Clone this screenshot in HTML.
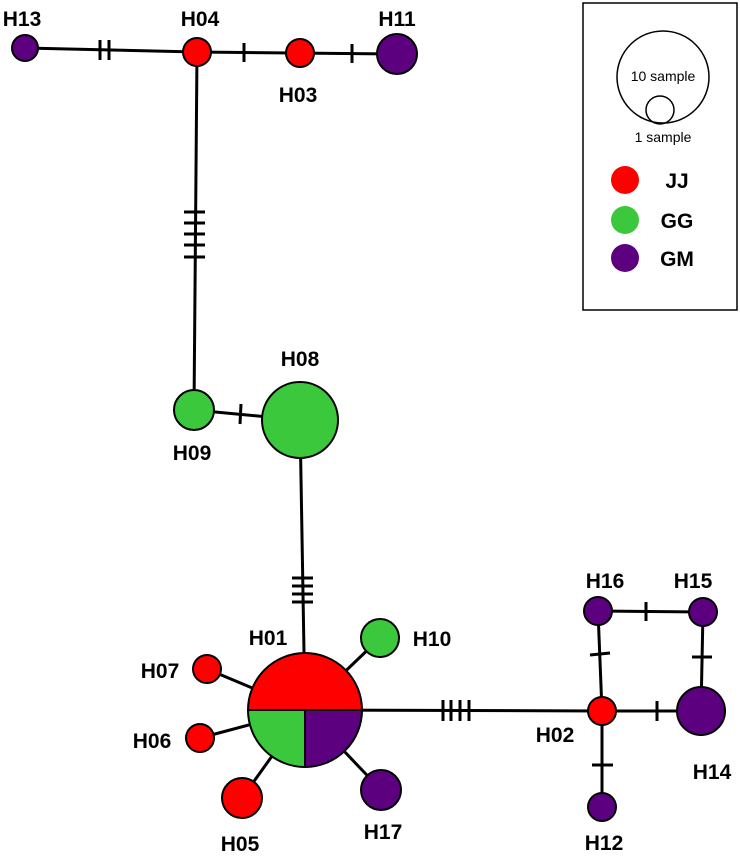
<!DOCTYPE html>
<html><head><style>html,body{margin:0;padding:0;background:#fff}</style></head><body>
<svg width="740" height="855" viewBox="0 0 740 855" xmlns="http://www.w3.org/2000/svg" font-family="Liberation Sans, Arial, sans-serif">
<g stroke="#000" stroke-width="3" fill="none">
<line x1="25" y1="48" x2="197" y2="52"/>
<line x1="197" y1="52" x2="397" y2="54"/>
<line x1="197" y1="52" x2="194" y2="410"/>
<line x1="194" y1="410" x2="300" y2="420"/>
<line x1="300" y1="420" x2="305" y2="710"/>
<line x1="305" y1="710" x2="602" y2="711"/>
<line x1="305" y1="710" x2="380" y2="638"/>
<line x1="305" y1="710" x2="207" y2="669"/>
<line x1="305" y1="710" x2="200" y2="738"/>
<line x1="305" y1="710" x2="242" y2="798"/>
<line x1="305" y1="710" x2="381" y2="790"/>
<line x1="602" y1="711" x2="701" y2="711"/>
<line x1="602" y1="711" x2="598" y2="611"/>
<line x1="598" y1="611" x2="703" y2="612"/>
<line x1="703" y1="612" x2="701" y2="711"/>
<line x1="602" y1="711" x2="602" y2="807"/>
<!-- ticks -->
<line x1="100" y1="40" x2="100" y2="60"/><line x1="109" y1="40" x2="109" y2="60"/>
<line x1="244" y1="43" x2="244" y2="62"/>
<line x1="352" y1="44" x2="352" y2="63"/>
<line x1="184" y1="212" x2="205" y2="212"/><line x1="184" y1="223" x2="205" y2="223"/><line x1="184" y1="234" x2="205" y2="234"/><line x1="184" y1="245" x2="205" y2="245"/><line x1="184" y1="257" x2="205" y2="257"/>
<line x1="241" y1="404" x2="240" y2="424"/>
<line x1="292" y1="578" x2="313" y2="578"/><line x1="292" y1="586" x2="313" y2="586"/><line x1="292" y1="594" x2="313" y2="594"/><line x1="292" y1="602" x2="313" y2="602"/>
<line x1="443" y1="700" x2="443" y2="721"/><line x1="451" y1="700" x2="451" y2="721"/><line x1="460" y1="700" x2="460" y2="721"/><line x1="469" y1="700" x2="469" y2="721"/>
<line x1="590" y1="655" x2="610" y2="653"/>
<line x1="692" y1="657" x2="712" y2="657"/>
<line x1="646" y1="602" x2="646" y2="621"/>
<line x1="657" y1="701" x2="657" y2="721"/>
<line x1="592" y1="765" x2="613" y2="765"/>
</g>
<g stroke="#000" stroke-width="2">
<circle cx="25" cy="48" r="13" fill="#5c0080"/>
<circle cx="197" cy="52" r="14" fill="#ff0000"/>
<circle cx="300" cy="53" r="14" fill="#ff0000"/>
<circle cx="397" cy="54" r="20" fill="#5c0080"/>
<circle cx="194" cy="410" r="20" fill="#3cc83c"/>
<circle cx="300" cy="420" r="38" fill="#3cc83c"/>
<circle cx="380" cy="638" r="19" fill="#3cc83c"/>
<circle cx="207" cy="669" r="14" fill="#ff0000"/>
<circle cx="200" cy="738" r="14" fill="#ff0000"/>
<circle cx="242" cy="798" r="20" fill="#ff0000"/>
<circle cx="381" cy="790" r="20" fill="#5c0080"/>
<circle cx="602" cy="711" r="14" fill="#ff0000"/>
<circle cx="701" cy="711" r="24" fill="#5c0080"/>
<circle cx="598" cy="611" r="14" fill="#5c0080"/>
<circle cx="703" cy="612" r="14" fill="#5c0080"/>
<circle cx="602" cy="807" r="14" fill="#5c0080"/>
<path d="M248,710 A57,57 0 0 1 362,710 Z" fill="#ff0000"/>
<path d="M305,710 L248,710 A57,57 0 0 0 305,767 Z" fill="#3cc83c"/>
<path d="M305,710 L305,767 A57,57 0 0 0 362,710 Z" fill="#5c0080"/>
</g>
<g font-size="21" font-weight="bold" text-anchor="middle" fill="#000">
<text x="22" y="26">H13</text><text x="200" y="26">H04</text><text x="397" y="26">H11</text>
<text x="298" y="102">H03</text><text x="192" y="460">H09</text><text x="300" y="366">H08</text>
<text x="268" y="645">H01</text><text x="160" y="678">H07</text><text x="152" y="748">H06</text>
<text x="240" y="851">H05</text><text x="383" y="839">H17</text><text x="432" y="646">H10</text>
<text x="605" y="588">H16</text><text x="693" y="588">H15</text><text x="555" y="742">H02</text>
<text x="712" y="779">H14</text><text x="604" y="850">H12</text>
</g>
<rect x="583" y="3" width="154" height="307" fill="none" stroke="#000" stroke-width="1.5"/>
<circle cx="663" cy="77" r="46" fill="none" stroke="#000" stroke-width="1.5"/>
<circle cx="660" cy="110" r="14" fill="none" stroke="#000" stroke-width="1.5"/>
<text x="663" y="81" font-size="14" text-anchor="middle">10 sample</text>
<text x="663" y="142" font-size="14" text-anchor="middle">1 sample</text>
<circle cx="625" cy="180" r="14" fill="#ff0000"/>
<circle cx="625" cy="220" r="14" fill="#3cc83c"/>
<circle cx="625" cy="258" r="14" fill="#5c0080"/>
<g font-size="21" font-weight="bold" text-anchor="middle">
<text x="677" y="188">JJ</text><text x="677" y="228">GG</text><text x="677" y="266">GM</text>
</g>
</svg>
</body></html>
